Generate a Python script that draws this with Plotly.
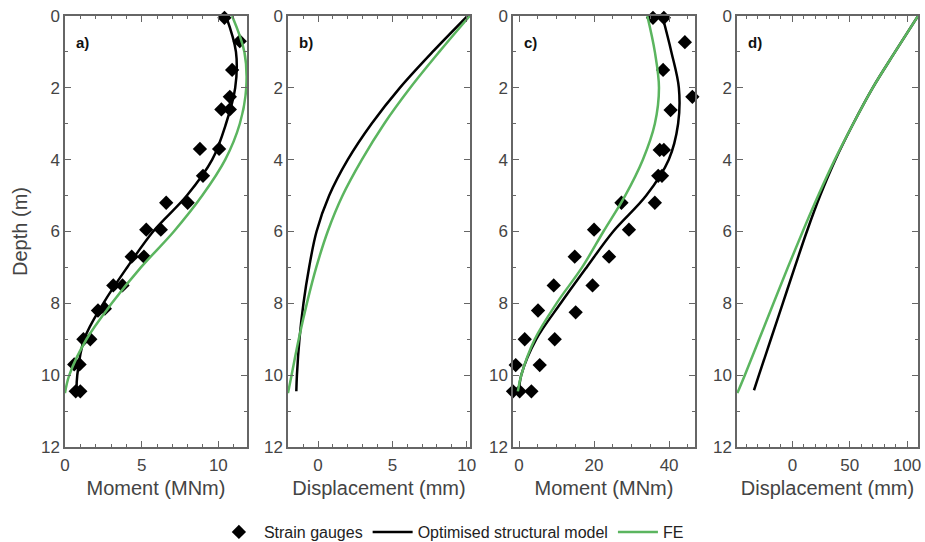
import plotly.graph_objects as go

# ---------------- data ----------------
# Panel a) bending moment, case 1 (MNm) vs depth (m)
gauge_depth_a = [0.05, 0.7, 1.5, 2.25, 2.25, 2.6, 2.6, 3.7, 3.7, 4.45, 5.2, 5.2, 5.95, 5.95,
                 6.7, 6.7, 7.5, 7.5, 8.2, 8.15, 9.0, 9.0, 9.7, 9.7, 10.45, 10.45]
gauge_moment_a = [10.4, 11.4, 10.9, 11.95, 10.75, 10.2, 10.75, 8.8, 10.05, 9.0, 6.6, 8.0, 5.3, 6.25,
                  4.35, 5.15, 3.15, 3.75, 2.15, 2.6, 1.2, 1.65, 0.6, 0.95, 0.7, 1.0]

opt_depth_a = [0, 1, 2, 3, 4, 5, 6, 7, 8, 9, 10, 10.45]
opt_moment_a = [10.5, 11.15, 11.1, 10.5, 9.6, 7.95, 5.75, 4.05, 2.5, 1.25, 0.8, 0.75]

fe_depth_a = [0, 1, 2, 3, 4, 5, 6, 7, 8, 9, 10, 10.5]
fe_moment_a = [10.9, 11.7, 11.82, 11.4, 10.45, 8.95, 7.1, 4.95, 3.05, 1.4, 0.28, 0.0]

# Panel b) displacement, case 1 (mm)
opt_depth_b = [0, 1, 2, 3, 4, 5, 6, 7, 8, 9, 10, 10.45]
opt_disp_b = [10.05, 7.7, 5.5, 3.6, 2.0, 0.75, -0.1, -0.6, -0.98, -1.25, -1.42, -1.46]
fe_depth_b = [0, 1, 2, 3, 4, 5, 6, 7, 8, 9, 10, 10.5]
fe_disp_b = [10.2, 8.15, 6.2, 4.45, 2.95, 1.65, 0.65, -0.12, -0.75, -1.3, -1.78, -2.02]

# Panel c) bending moment, case 2 (MNm)
gauge_depth_c = [0.05, 0.05, 0.73, 1.5, 2.25, 2.62, 2.62, 3.73, 3.73, 4.45, 4.45, 5.2, 5.2, 5.95, 5.95,
                 6.7, 6.7, 7.5, 7.5, 8.2, 8.25, 9.0, 9.0, 9.72, 9.72, 10.45, 10.45, 10.45]
gauge_moment_c = [35.7, 38.6, 44.2, 38.4, 46.2, 47.1, 40.4, 37.5, 38.6, 37.1, 38.1, 36.2, 27.3, 20.0, 29.3,
                  14.85, 24.0, 9.25, 19.6, 5.07, 15.1, 1.52, 9.52, -0.88, 5.52, -1.6, 0.18, 3.3]

opt_depth_c = [0, 1, 2, 3, 4, 5, 6, 7, 8, 9, 10, 10.45]
opt_moment_c = [38.2, 40.6, 42.6, 42.4, 39.9, 33.9, 25.1, 18.0, 11.1, 4.6, 0.6, 0.0]

fe_depth_c = [0, 1, 2, 3, 4, 5, 6, 7, 8, 9, 10, 10.45]
fe_moment_c = [34.2, 36.2, 37.3, 36.2, 33.0, 28.3, 22.5, 16.8, 10.0, 4.2, 0.6, -0.3]

# Panel d) displacement, case 2 (mm)
opt_depth_d = [0, 1, 2, 3, 4, 5, 6, 7, 8, 9, 10, 10.42]
opt_disp_d = [109.5, 89.5, 70.0, 53.0, 37.5, 24.2, 12.6, 2.0, -8.4, -18.8, -29.2, -33.5]
fe_depth_d = [0, 1, 2, 3, 4, 5, 6, 7, 8, 9, 10, 10.5]
fe_disp_d = [109.5, 89.5, 70.0, 53.0, 37.0, 22.5, 9.0, -4.0, -16.5, -29.0, -41.5, -48.0]

panel_labels = ["a)", "b)", "c)", "d)"]
x_titles = ["Moment (MNm)", "Displacement (mm)", "Moment (MNm)", "Displacement (mm)"]
x_ranges = [[0, 11.87], [-2.02, 10.22], [-1.6, 46.9], [-48.3, 109.5]]
x_major = [5, 5, 20, 50]
x_minor = [1, 1, 5, 10]
depth_ticks = [0, 2, 4, 6, 8, 10, 12]

# ---------------- style ----------------
W, H = 925, 542
BLACK = "#000000"
GREEN = "#5BB55F"
AXC = "#666666"
TXT = "#444444"
FONT = "Liberation Sans, Arial, sans-serif"

px_left = [65, 288, 513, 737]
px_right = [247, 470, 695, 918]
px_top, px_bottom = 16, 447

fig = go.Figure()

curves = [
    (gauge_moment_a, gauge_depth_a, opt_moment_a, opt_depth_a, fe_moment_a, fe_depth_a),
    (None, None, opt_disp_b, opt_depth_b, fe_disp_b, fe_depth_b),
    (gauge_moment_c, gauge_depth_c, opt_moment_c, opt_depth_c, fe_moment_c, fe_depth_c),
    (None, None, opt_disp_d, opt_depth_d, fe_disp_d, fe_depth_d),
]

for i, (gx, gy, ox, oy, fx, fy) in enumerate(curves):
    xa = "x" if i == 0 else f"x{i+1}"
    ya = "y" if i == 0 else f"y{i+1}"
    first = i == 0
    if gx is not None:
        fig.add_trace(go.Scatter(x=gx, y=gy, xaxis=xa, yaxis=ya, mode="markers",
                                 marker=dict(symbol="diamond", size=11, color=BLACK),
                                 name="Strain gauges", legendgroup="g", showlegend=first,
                                 cliponaxis=False))
    fig.add_trace(go.Scatter(x=ox, y=oy, xaxis=xa, yaxis=ya, mode="lines",
                             line=dict(color=BLACK, width=2.5, shape="spline", smoothing=1),
                             name="Optimised structural model", legendgroup="o", showlegend=first))
    fig.add_trace(go.Scatter(x=fx, y=fy, xaxis=xa, yaxis=ya, mode="lines",
                             line=dict(color=GREEN, width=2.5, shape="spline", smoothing=1),
                             name="FE", legendgroup="f", showlegend=first))

layout = dict(
    width=W, height=H,
    margin=dict(l=0, r=0, t=0, b=0, autoexpand=False),
    paper_bgcolor="white", plot_bgcolor="white",
    font=dict(family=FONT, color=TXT, size=16),
    legend=dict(orientation="h", x=0.488, xanchor="center", y=(H - 532) / H, yanchor="middle",
                font=dict(size=16, color="#222222"), bgcolor="rgba(0,0,0,0)",
                itemwidth=40, tracegroupgap=0),
)

yd = [1 - px_bottom / H, 1 - px_top / H]
annotations = []
for i in range(4):
    xk = "xaxis" if i == 0 else f"xaxis{i+1}"
    yk = "yaxis" if i == 0 else f"yaxis{i+1}"
    ya = "y" if i == 0 else f"y{i+1}"
    xa = "x" if i == 0 else f"x{i+1}"
    layout[xk] = dict(
        domain=[px_left[i] / W, px_right[i] / W], anchor=ya,
        range=x_ranges[i], dtick=x_major[i], tick0=0,
        ticks="inside", ticklen=6, tickwidth=1, tickcolor=AXC,
        minor=dict(dtick=x_minor[i], tick0=0, ticks="inside", ticklen=3.5, tickcolor=AXC, showgrid=False),
        showline=True, linecolor=AXC, linewidth=1.5, mirror="allticks",
        showgrid=False, zeroline=False, automargin=False,
        ticklabelstandoff=2,
        tickfont=dict(size=17, color=TXT, family=FONT),
        title=dict(text=x_titles[i], font=dict(size=20, color=TXT, family=FONT), standoff=7),
    )
    layout[yk] = dict(
        domain=yd, anchor=xa,
        range=[12, 0], tickvals=depth_ticks,
        ticks="inside", ticklen=6, tickwidth=1, tickcolor=AXC,
        minor=dict(dtick=1, tick0=0, ticks="inside", ticklen=3.5, tickcolor=AXC, showgrid=False),
        showline=True, linecolor=AXC, linewidth=1.5, mirror="allticks",
        showgrid=False, zeroline=False, automargin=False,
        tickfont=dict(size=17, color=TXT, family=FONT),
    )
    if i == 0:
        layout[yk]["title"] = dict(text="Depth (m)", font=dict(size=20, color=TXT, family=FONT), standoff=8)
    annotations.append(dict(
        text=f"<b>{panel_labels[i]}</b>", xref=f"{xa} domain", yref=f"{ya} domain",
        x=0.05, y=(px_bottom - 42) / (px_bottom - px_top), xanchor="left", yanchor="middle",
        showarrow=False, font=dict(size=15, color="#111111", family=FONT)))
layout["annotations"] = annotations

fig.update_layout(**layout)
fig.write_html("out.html")
